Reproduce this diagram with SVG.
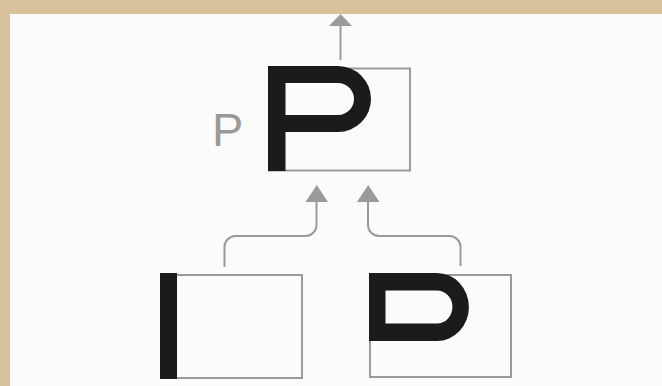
<svg xmlns="http://www.w3.org/2000/svg" width="662" height="386" viewBox="0 0 662 386">
<style>
.box{fill:none;stroke:#9a9a9a;stroke-width:2}
.ink{fill:#1c1a1a}
.conn{fill:none;stroke:#9a9a9a;stroke-width:2}
.head{fill:#9a9a9a}
.lbl{font-family:"Liberation Sans",Arial,sans-serif;font-size:47px;fill:#9a9a9a}
</style>
<defs>
<path id="bowl" fill-rule="evenodd" d="M0 0 H70 A33 33 0 0 1 70 66 H0 Z M17 17 V49 H70 A16 16 0 0 0 70 17 Z"/>
</defs>
<rect x="0" y="0" width="662" height="386" fill="#d8c29c"/>
<rect x="10" y="14" width="652" height="372" fill="#fbfbfb"/>
<g id="connectors">
<line class="conn" x1="340.5" y1="60" x2="340.5" y2="25"/>
<polygon class="head" points="329,26 352,26 340.5,14"/>
<path class="conn" d="M224.5 267 V247 A11 11 0 0 1 235.5 236 H305.5 A11 11 0 0 0 316.5 225 V200"/>
<polygon class="head" points="305.5,202 328,202 316.8,185"/>
<path class="conn" d="M460.5 266 V247 A11 11 0 0 0 449.5 236 H379 A11 11 0 0 1 368 225 V200"/>
<polygon class="head" points="357,202 379.5,202 368.2,185"/>
</g>
<g id="node-top">
<rect class="box" x="269" y="68.5" width="141" height="102"/>
<use href="#bowl" class="ink" x="268" y="66"/>
<rect class="ink" x="268" y="66" width="17.5" height="105"/>
<text class="lbl" x="212" y="146">P</text>
</g>
<g id="node-stem">
<rect class="box" x="161" y="275" width="141" height="103"/>
<rect class="ink" x="160" y="273" width="17" height="106"/>
</g>
<g id="node-bowl">
<rect class="box" x="370" y="275" width="141" height="102"/>
<use href="#bowl" class="ink" transform="translate(369 273) scale(0.97 1.03)"/>
</g>
</svg>
